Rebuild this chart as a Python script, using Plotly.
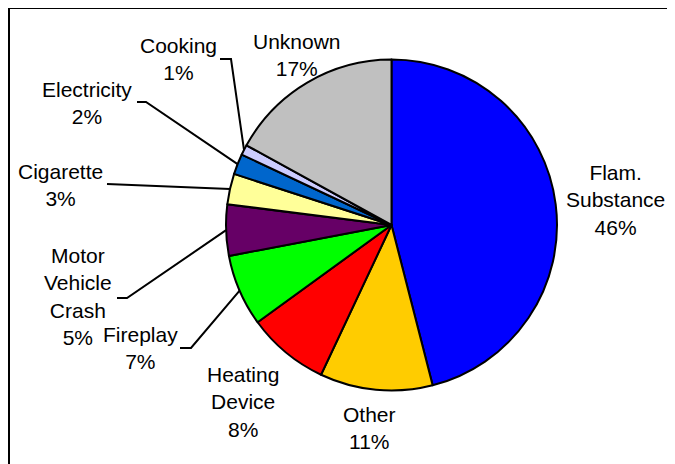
import math
import plotly.graph_objects as go

# ---- data ----
categories = ["Flam. Substance", "Other", "Heating Device", "Fireplay",
              "Motor Vehicle Crash", "Cigarette", "Electricity", "Cooking", "Unknown"]
label_lines = ["Flam.<br>Substance", "Other", "Heating<br>Device", "Fireplay",
               "Motor<br>Vehicle<br>Crash", "Cigarette", "Electricity", "Cooking", "Unknown"]
percent = [46, 11, 8, 7, 5, 3, 2, 1, 17]
colors = ["#0000FF", "#FFCC00", "#FF0000", "#00FF00", "#660066",
          "#FFFF99", "#0066CC", "#CCCCFF", "#C0C0C0"]

# ---- layout (screen pixel space; page body has an 8px margin) ----
W, H = 675, 464
OFF = 8
CX, CY, R = 391.5, 225.0, 165.5
label_pos = [(615, 199.5), (369, 427.5), (243, 402), (140, 348), (78, 296.5),
             (60, 185), (87, 102.5), (178, 58.5), (297, 55)]
leader_start = {3: [(180, 348), (191, 348)],
                4: [(117, 298), (127, 298)],
                5: [(107, 184)],
                6: [(137, 102), (146, 102)],
                7: [(220, 59), (231, 59)]}

FONT = "Liberation Sans, Arial, sans-serif"

fig = go.Figure()
fig.add_trace(go.Pie(
    labels=categories, values=percent, sort=False, direction="clockwise",
    rotation=0, textinfo="none", hoverinfo="none", showlegend=False,
    marker=dict(colors=colors, line=dict(color="black", width=2)),
    domain=dict(x=[(CX - OFF - R) / W, (CX - OFF + R) / W],
                y=[1 - (CY - OFF + R) / H, 1 - (CY - OFF - R) / H]),
))

total = sum(percent)
cum = 0
shapes = []
annotations = []
for i, v in enumerate(percent):
    mid = (cum + v / 2) / total * 2 * math.pi
    cum += v
    ex = CX + R * math.sin(mid)
    ey = CY - R * math.cos(mid)
    if i in leader_start:
        pts = leader_start[i] + [(ex, ey)]
        path = "M " + " L ".join(f"{x:.1f},{y:.1f}" for x, y in pts)
        shapes.append(dict(type="path", xref="x", yref="y", path=path,
                           line=dict(color="black", width=2)))
    lx, ly = label_pos[i]
    annotations.append(dict(x=lx, y=ly, xref="x", yref="y", showarrow=False,
                            text=f"{label_lines[i]}<br>{v}%", align="center",
                            xanchor="center", yanchor="middle",
                            font=dict(family=FONT, size=21, color="black")))

# chart frame (clipped at right/bottom like the reference)
shapes.append(dict(type="rect", xref="x", yref="y", x0=9, y0=8, x1=W + OFF + 5, y1=H + OFF + 5,
                   line=dict(color="black", width=2), layer="above"))

fig.update_layout(
    width=W, height=H, margin=dict(l=0, r=0, t=0, b=0),
    paper_bgcolor="white", plot_bgcolor="rgba(0,0,0,0)",
    xaxis=dict(range=[OFF, W + OFF], visible=False, fixedrange=True),
    yaxis=dict(range=[H + OFF, OFF], visible=False, fixedrange=True),
    shapes=shapes, annotations=annotations,
)

fig.write_html("out.html")
